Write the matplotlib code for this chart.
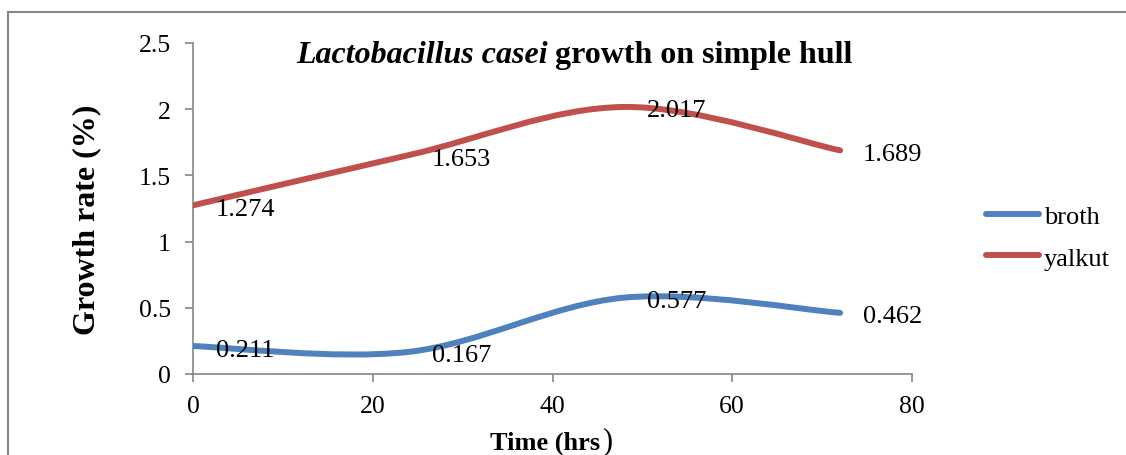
import matplotlib
matplotlib.use("Agg")
import matplotlib.pyplot as plt
from matplotlib.path import Path
from matplotlib.patches import PathPatch
from matplotlib.lines import Line2D
import numpy as np

# ---- data ----
time_hrs = [0, 24, 48, 72]
broth = [0.211, 0.167, 0.577, 0.462]
yalkut = [1.274, 1.653, 2.017, 1.689]
series_names = ["broth", "yalkut"]
series_colors = ["#4F81BD", "#C0504D"]
x_ticks = [0, 20, 40, 60, 80]
y_ticks = [0, 0.5, 1, 1.5, 2, 2.5]
y_tick_labels = ["0", "0.5", "1", "1.5", "2", "2.5"]

plt.rcParams["font.family"] = ["Liberation Serif", "DejaVu Serif"]

W, H = 1126, 456
fig = plt.figure(figsize=(W / 100, H / 100), dpi=100)
ax = fig.add_axes([193 / W, 1 - 375 / H, (912 - 193) / W, (375 - 44) / H])


def smooth_path(xs, ys):
    """Excel-like smoothed line: Catmull-Rom converted to cubic Bezier."""
    pts = np.column_stack([xs, ys]).astype(float)
    n = len(pts)
    verts = [pts[0]]
    codes = [Path.MOVETO]
    for i in range(n - 1):
        p0 = pts[i - 1] if i > 0 else pts[i]
        p1 = pts[i]
        p2 = pts[i + 1]
        p3 = pts[i + 2] if i + 2 < n else pts[i + 1]
        c1 = p1 + (p2 - p0) / 6.0
        c2 = p2 - (p3 - p1) / 6.0
        verts += [c1, c2, p2]
        codes += [Path.CURVE4] * 3
    return Path(verts, codes)


lw = 4.3
for ys, name, col in zip([broth, yalkut], series_names, series_colors):
    patch = PathPatch(smooth_path(time_hrs, ys), facecolor="none", edgecolor=col,
                      lw=lw, capstyle="round", joinstyle="round", zorder=3)
    ax.add_patch(patch)
    for xv, yv in zip(time_hrs, ys):
        ax.annotate(f"{yv:g}", xy=(xv, yv), xytext=(16.5, -2.5), textcoords="offset points",
                    ha="left", va="center", fontsize=19, color="black", zorder=4)

ax.set_xlim(0, 80)
ax.set_ylim(0, 2.5)
ax.set_xticks(x_ticks)
ax.set_xticklabels([str(t) for t in x_ticks])
ax.set_yticks(y_ticks)
ax.set_yticklabels(y_tick_labels)

axis_col = "#868686"
for s in ["top", "right"]:
    ax.spines[s].set_visible(False)
for s in ["left", "bottom"]:
    ax.spines[s].set_color(axis_col)
    ax.spines[s].set_linewidth(1.2)
ax.tick_params(axis="both", direction="out", length=6, width=1.2, color=axis_col,
               labelsize=18.5, labelcolor="black")
ax.tick_params(axis="y", pad=10)
ax.tick_params(axis="x", pad=9)

ax.set_ylabel("Growth rate (%)", fontsize=23, fontweight="bold")
ax.yaxis.set_label_coords(-0.127, 0.47)

# x label with larger closing parenthesis
fig.text(490 / W, 1 - 450 / H, "Time (hrs", fontsize=19, fontweight="bold",
         ha="left", va="baseline")
fig.text(602 / W, 1 - 449 / H, ")", fontsize=22, ha="left", va="baseline")

# title: italic species name + bold rest
t1 = fig.text(296 / W, 1 - 63 / H, "Lactobacillus casei", fontsize=23,
              fontweight="bold", fontstyle="italic", ha="left", va="baseline")
fig.canvas.draw()
bb = t1.get_window_extent()
fig.text((bb.x1 + 7) / W, 1 - 63 / H, "growth on simple hull", fontsize=23,
         fontweight="bold", ha="left", va="baseline")

# legend
handles = [Line2D([], [], color=c, lw=lw, solid_capstyle="round") for c in series_colors]
fig.legend(handles, series_names, loc="center left", bbox_to_anchor=(986 / W, 1 - 238 / H),
           frameon=False, fontsize=19, handlelength=2.0, handletextpad=0.2,
           labelspacing=0.7, borderpad=0, borderaxespad=0)

# outer chart border (left and top edges visible)
fig.add_artist(Line2D([8 / W, 8 / W], [0, 1 - 13 / H], color=axis_col, lw=1.5,
                      transform=fig.transFigure))
fig.add_artist(Line2D([8 / W, 1], [1 - 13 / H, 1 - 13 / H], color=axis_col, lw=1.5,
                      transform=fig.transFigure))

fig.savefig("out.png", dpi=100)
